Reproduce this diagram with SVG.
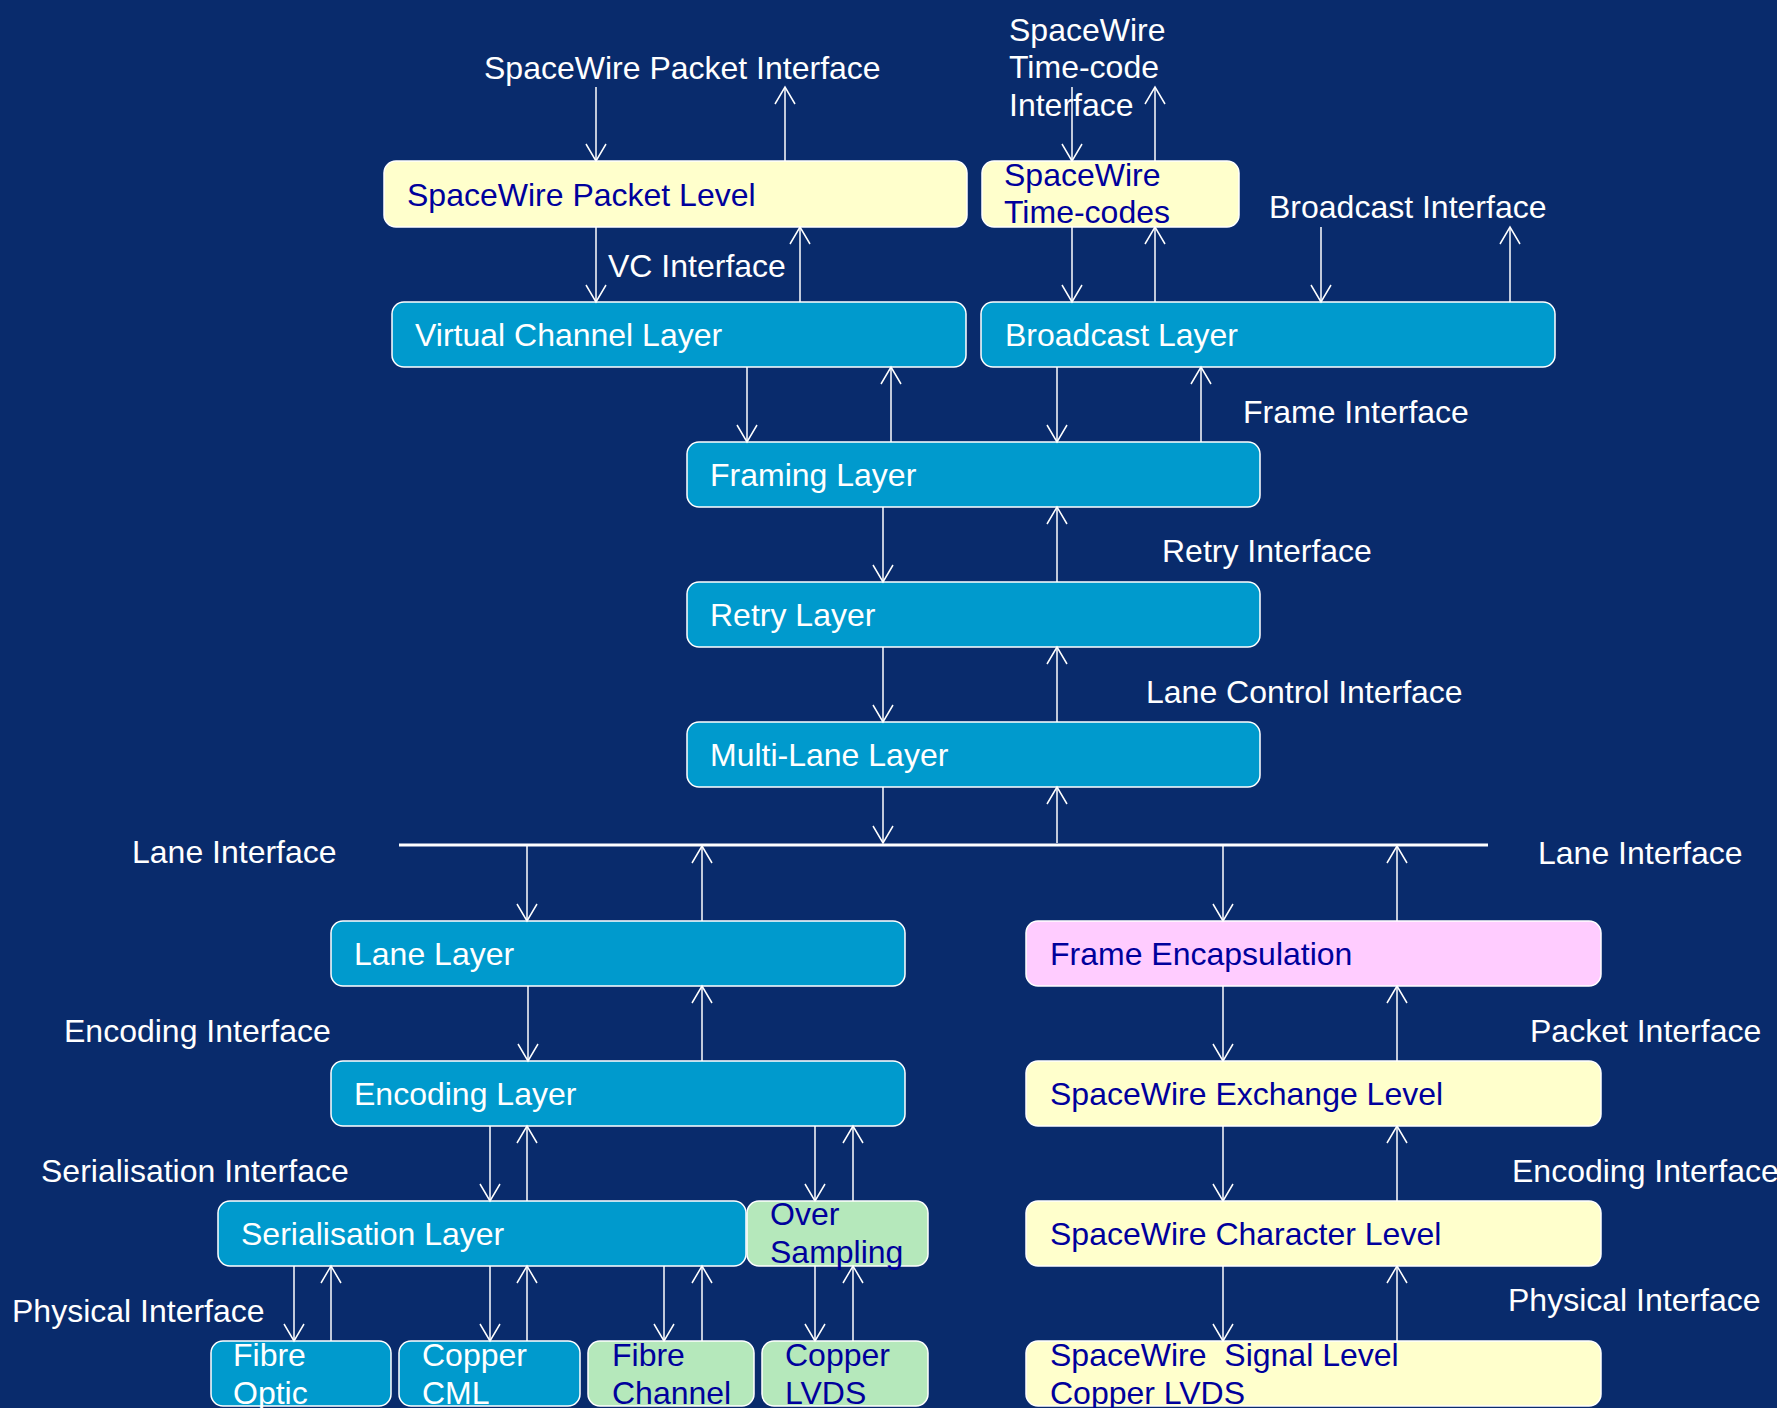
<svg xmlns="http://www.w3.org/2000/svg" width="1777" height="1408" viewBox="0 0 1777 1408">
<style>
.t{font-family:"Liberation Sans",Arial,sans-serif;font-size:32px}
.w{fill:#ffffff}
.d{fill:#00009c}
.bx{stroke:#ffffff;stroke-width:1.5}
.blue{fill:#009acd}
.yel{fill:#ffffcc}
.pink{fill:#ffccff}
.grn{fill:#b5e8bb}
.c line{stroke:#ffffff;stroke-width:1.5;marker-end:url(#ah)}
</style>
<defs>
<marker id="ah" markerUnits="userSpaceOnUse" markerWidth="26" markerHeight="26" viewBox="-21 -13 24 26" refX="0" refY="0" orient="auto" overflow="visible">
<path d="M-17,-10 L0,0 L-17,10" fill="none" stroke="#ffffff" stroke-width="1.5"/>
</marker>
</defs>
<rect x="0" y="0" width="1777" height="1408" fill="#092b6c"/>

<g id="labels" class="t w">
<text x="484" y="79">SpaceWire Packet Interface</text>
<text x="1009" y="41">SpaceWire</text>
<text x="1009" y="78">Time-code</text>
<text x="1009" y="116">Interface</text>
<text x="608" y="277">VC Interface</text>
<text x="1269" y="218">Broadcast Interface</text>
<text x="1243" y="423">Frame Interface</text>
<text x="1162" y="562">Retry Interface</text>
<text x="1146" y="703">Lane Control Interface</text>
<text x="132" y="863">Lane Interface</text>
<text x="1538" y="864">Lane Interface</text>
<text x="64" y="1042">Encoding Interface</text>
<text x="41" y="1182">Serialisation Interface</text>
<text x="12" y="1322">Physical Interface</text>
<text x="1530" y="1042">Packet Interface</text>
<text x="1512" y="1182">Encoding Interface</text>
<text x="1508" y="1311">Physical Interface</text>
</g>

<g id="n-packet-level"><rect class="bx yel" x="384" y="161" width="583" height="66" rx="12"/><text class="t d" x="407" y="206">SpaceWire Packet Level</text></g>
<g id="n-time-codes"><rect class="bx yel" x="982" y="161" width="257" height="66" rx="12"/><text class="t d" x="1004" y="186">SpaceWire</text><text class="t d" x="1004" y="223">Time-codes</text></g>
<g id="n-vc"><rect class="bx blue" x="392" y="302" width="574" height="65" rx="12"/><text class="t w" x="415" y="346">Virtual Channel Layer</text></g>
<g id="n-broadcast"><rect class="bx blue" x="981" y="302" width="574" height="65" rx="12"/><text class="t w" x="1005" y="346">Broadcast Layer</text></g>
<g id="n-framing"><rect class="bx blue" x="687" y="442" width="573" height="65" rx="12"/><text class="t w" x="710" y="486">Framing Layer</text></g>
<g id="n-retry"><rect class="bx blue" x="687" y="582" width="573" height="65" rx="12"/><text class="t w" x="710" y="626">Retry Layer</text></g>
<g id="n-multilane"><rect class="bx blue" x="687" y="722" width="573" height="65" rx="12"/><text class="t w" x="710" y="766">Multi-Lane Layer</text></g>
<g id="n-lane"><rect class="bx blue" x="331" y="921" width="574" height="65" rx="12"/><text class="t w" x="354" y="965">Lane Layer</text></g>
<g id="n-encoding"><rect class="bx blue" x="331" y="1061" width="574" height="65" rx="12"/><text class="t w" x="354" y="1105">Encoding Layer</text></g>
<g id="n-serial"><rect class="bx blue" x="218" y="1201" width="528" height="65" rx="12"/><text class="t w" x="241" y="1245">Serialisation Layer</text></g>
<g id="n-oversampling"><rect class="bx grn" x="747" y="1201" width="181" height="65" rx="12"/><text class="t d" x="770" y="1225">Over</text><text class="t d" x="770" y="1263">Sampling</text></g>
<g id="n-fibre-optic"><rect class="bx blue" x="211" y="1341" width="180" height="65" rx="12"/><text class="t w" x="233" y="1366">Fibre</text><text class="t w" x="233" y="1404">Optic</text></g>
<g id="n-copper-cml"><rect class="bx blue" x="399" y="1341" width="181" height="65" rx="12"/><text class="t w" x="422" y="1366">Copper</text><text class="t w" x="422" y="1404">CML</text></g>
<g id="n-fibre-channel"><rect class="bx grn" x="588" y="1341" width="166" height="65" rx="12"/><text class="t d" x="612" y="1366">Fibre</text><text class="t d" x="612" y="1404">Channel</text></g>
<g id="n-copper-lvds"><rect class="bx grn" x="762" y="1341" width="166" height="65" rx="12"/><text class="t d" x="785" y="1366">Copper</text><text class="t d" x="785" y="1404">LVDS</text></g>
<g id="n-frame-encap"><rect class="bx pink" x="1026" y="921" width="575" height="65" rx="12"/><text class="t d" x="1050" y="965">Frame Encapsulation</text></g>
<g id="n-exchange"><rect class="bx yel" x="1026" y="1061" width="575" height="65" rx="12"/><text class="t d" x="1050" y="1105">SpaceWire Exchange Level</text></g>
<g id="n-character"><rect class="bx yel" x="1026" y="1201" width="575" height="65" rx="12"/><text class="t d" x="1050" y="1245">SpaceWire Character Level</text></g>
<g id="n-signal"><rect class="bx yel" x="1026" y="1341" width="575" height="65" rx="12"/><text class="t d" x="1050" y="1366" xml:space="preserve">SpaceWire  Signal Level</text><text class="t d" x="1050" y="1404">Copper LVDS</text></g>

<g id="connectors" class="c">
<path d="M399,845 H1488" stroke="#ffffff" stroke-width="3" fill="none"/>
<line x1="596" y1="87" x2="596" y2="161"/>
<line x1="785" y1="161" x2="785" y2="87"/>
<line x1="1072" y1="87" x2="1072" y2="161"/>
<line x1="1155" y1="161" x2="1155" y2="87"/>
<line x1="596" y1="227" x2="596" y2="302"/>
<line x1="800" y1="302" x2="800" y2="227"/>
<line x1="1072" y1="227" x2="1072" y2="302"/>
<line x1="1155" y1="302" x2="1155" y2="227"/>
<line x1="1321" y1="227" x2="1321" y2="302"/>
<line x1="1510" y1="302" x2="1510" y2="227"/>
<line x1="747" y1="367" x2="747" y2="442"/>
<line x1="891" y1="442" x2="891" y2="367"/>
<line x1="1057" y1="367" x2="1057" y2="442"/>
<line x1="1201" y1="442" x2="1201" y2="367"/>
<line x1="883" y1="507" x2="883" y2="582"/>
<line x1="1057" y1="582" x2="1057" y2="507"/>
<line x1="883" y1="647" x2="883" y2="722"/>
<line x1="1057" y1="722" x2="1057" y2="647"/>
<line x1="883" y1="787" x2="883" y2="843"/>
<line x1="1057" y1="843" x2="1057" y2="787"/>
<line x1="527" y1="846" x2="527" y2="921"/>
<line x1="702" y1="921" x2="702" y2="846"/>
<line x1="1223" y1="846" x2="1223" y2="921"/>
<line x1="1397" y1="921" x2="1397" y2="846"/>
<line x1="528" y1="986" x2="528" y2="1061"/>
<line x1="702" y1="1061" x2="702" y2="986"/>
<line x1="1223" y1="986" x2="1223" y2="1061"/>
<line x1="1397" y1="1061" x2="1397" y2="986"/>
<line x1="490" y1="1126" x2="490" y2="1201"/>
<line x1="527" y1="1201" x2="527" y2="1126"/>
<line x1="815" y1="1126" x2="815" y2="1201"/>
<line x1="853" y1="1201" x2="853" y2="1126"/>
<line x1="1223" y1="1126" x2="1223" y2="1201"/>
<line x1="1397" y1="1201" x2="1397" y2="1126"/>
<line x1="294" y1="1266" x2="294" y2="1341"/>
<line x1="331" y1="1341" x2="331" y2="1266"/>
<line x1="490" y1="1266" x2="490" y2="1341"/>
<line x1="527" y1="1341" x2="527" y2="1266"/>
<line x1="664" y1="1266" x2="664" y2="1341"/>
<line x1="702" y1="1341" x2="702" y2="1266"/>
<line x1="815" y1="1266" x2="815" y2="1341"/>
<line x1="853" y1="1341" x2="853" y2="1266"/>
<line x1="1223" y1="1266" x2="1223" y2="1341"/>
<line x1="1397" y1="1341" x2="1397" y2="1266"/>
</g>
</svg>
